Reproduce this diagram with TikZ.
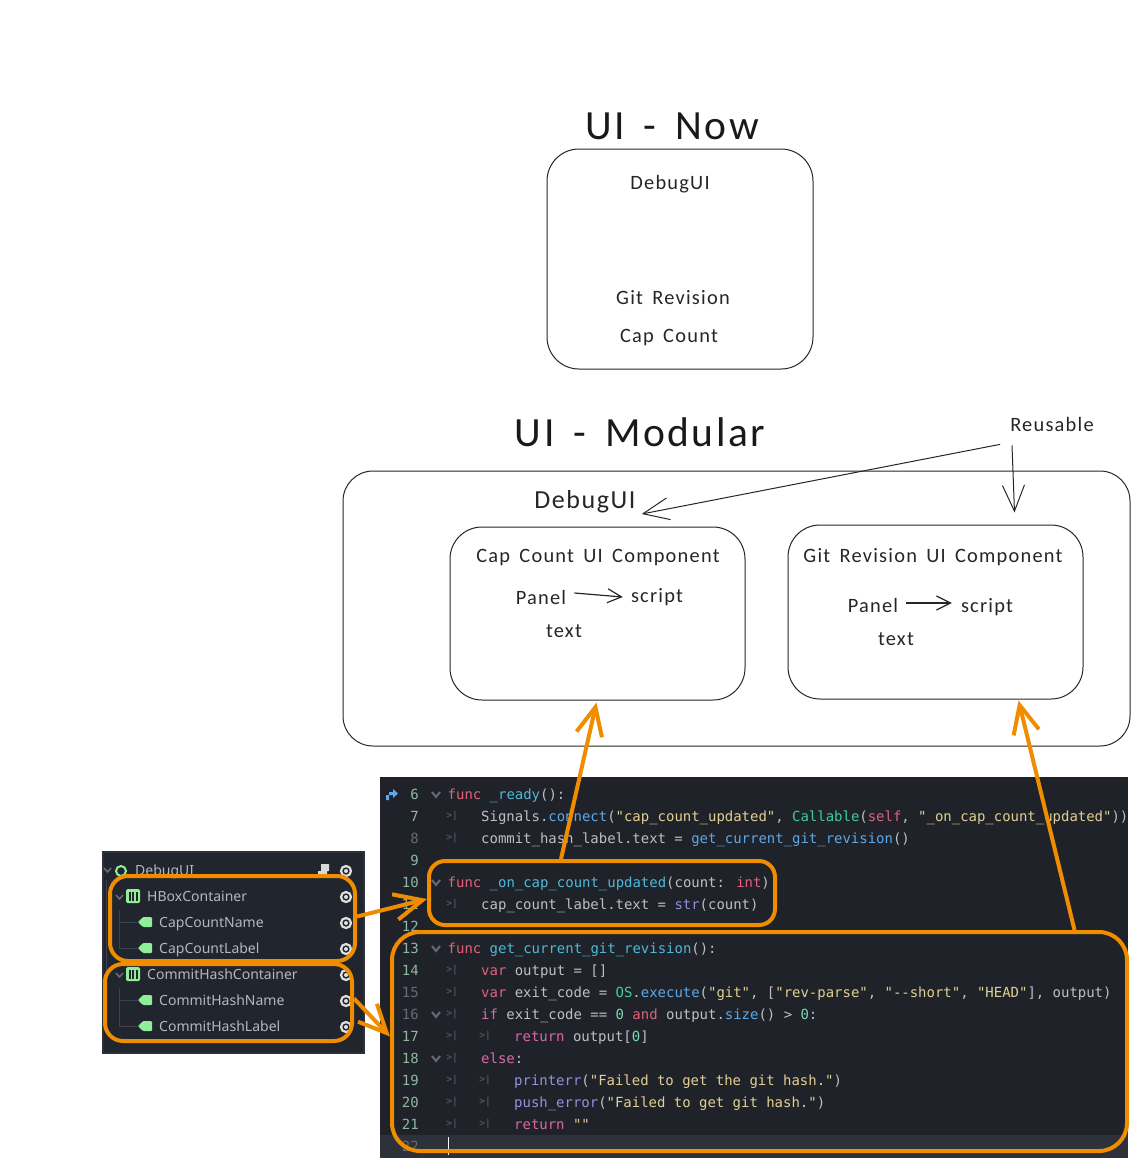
\documentclass[tikz,border=0pt]{standalone}
\usepackage{fontspec}
\usetikzlibrary{arrows.meta,positioning}
\newfontfamily\sketchfont[ItalicFont=*,LetterSpace=6,WordSpace=1.6]{Carlito}
\newfontfamily\codefont{DejaVu Sans Mono}
\newfontfamily\treefont{Noto Sans}
\definecolor{panelbg}{HTML}{1F2329}
\definecolor{treebg}{HTML}{21252E}
\definecolor{treeedge}{HTML}{2B303A}
\definecolor{treeline}{HTML}{3D424C}
\definecolor{curline}{HTML}{2D3139}
\definecolor{markorange}{HTML}{F08C00}
\definecolor{numon}{HTML}{8FB89F}
\definecolor{numoff}{HTML}{666B73}
\definecolor{tabdim}{HTML}{50555D}
\definecolor{codetext}{HTML}{BCC0C5}
\definecolor{codekw}{HTML}{E0607E}
\definecolor{codectl}{HTML}{D868A8}
\definecolor{codefn}{HTML}{4FB8D8}
\definecolor{codecall}{HTML}{5CA8E8}
\definecolor{codestr}{HTML}{E3CF93}
\definecolor{codenum}{HTML}{7FD8B0}
\definecolor{codetype}{HTML}{3FCCA0}
\definecolor{codebuilt}{HTML}{9490E0}
\definecolor{treetext}{HTML}{B4B8BE}
\definecolor{treegreen}{HTML}{8EEF97}
\newcommand{\kw}[1]{\textcolor{codekw}{#1}}
\newcommand{\ctl}[1]{\textcolor{codectl}{#1}}
\newcommand{\fn}[1]{\textcolor{codefn}{#1}}
\newcommand{\call}[1]{\textcolor{codecall}{#1}}
\newcommand{\str}[1]{\textcolor{codestr}{#1}}
\newcommand{\nm}[1]{\textcolor{codenum}{#1}}
\newcommand{\typ}[1]{\textcolor{codetype}{#1}}
\newcommand{\bi}[1]{\textcolor{codebuilt}{#1}}
\tikzset{
    sketchbox/.style={draw=black!85,line width=1pt,rounded corners=32pt,anchor=center},
    sketchlabel/.style={font=\sketchfont\itshape\fontsize{20.4}{20}\selectfont,text=black!85,inner sep=0pt},
    sketchtitle/.style={font=\sketchfont\itshape\fontsize{41.5}{41}\selectfont,text=black!90,inner sep=0pt},
    sketcharrow/.style={draw=black!85,line width=1pt,-{Straight Barb[length=26pt,width=22pt]}},
    smallarrow/.style={draw=black!85,line width=1.2pt,-{Straight Barb[length=14pt,width=14pt]}},
    codeline/.style={font=\codefont\fontsize{13.96}{14}\selectfont,text=codetext,anchor=base west,inner sep=0pt},
    linenum/.style={font=\codefont\fontsize{13.96}{14}\selectfont,anchor=base east,inner sep=0pt},
    tabmark/.style={font=\codefont\bfseries\fontsize{9.5}{9}\selectfont,text=tabdim,inner sep=0pt},
    treerow/.style={font=\treefont\fontsize{14}{14}\selectfont,text=treetext,anchor=base west,inner sep=0pt},
    markbox/.style={draw=markorange,line width=4pt,anchor=center},
    markarrow/.style={draw=markorange,line width=4pt,-{Straight Barb[length=28pt,width=26pt]}},
}
\begin{document}
\begin{tikzpicture}[x=1pt,y=-1pt]
    \useasboundingbox (0,0) rectangle (1139,1168);
    % top sketch
    \node[sketchtitle] (nowtitle) at (672,126) {UI - Now};
    \node[sketchbox,minimum width=266pt,minimum height=220pt] (nowbox) at (680,259) {};
    \node[sketchlabel] (nowname) at (670,184) {DebugUI};
    \node[sketchlabel] (nowgit) at (673,298) {Git Revision};
    \node[sketchlabel] (nowcap) at (669,338) {Cap Count};
    % modular sketch
    \node[sketchtitle] (modtitle) at (640,432) {UI - Modular};
    \node[sketchlabel] (reusable) at (1052,424) {Reusable};
    \node[sketchbox,rounded corners=30pt,minimum width=787pt,minimum height=275pt] (modbox) at (736.5,608.5) {};
    \node[sketchlabel,font=\sketchfont\itshape\fontsize{26}{26}\selectfont] (modname) at (585,502) {DebugUI};
    \node[sketchbox,minimum width=295pt,minimum height=173pt] (capcomp) at (597.5,613.5) {};
    \node[sketchbox,minimum width=295pt,minimum height=174pt] (gitcomp) at (935.5,612) {};
    \node[sketchlabel] (captitle) at (598,558) {Cap Count UI Component};
    \node[sketchlabel] (cappanel) at (541,597) {Panel};
    \node[sketchlabel] (capscript) at (657,597) {script};
    \node[sketchlabel] (captext) at (564,631) {text};
    \node[sketchlabel] (gittitle) at (933,557) {Git Revision UI Component};
    \node[sketchlabel] (gitpanel) at (873,605) {Panel};
    \node[sketchlabel] (gitscript) at (987,607) {script};
    \node[sketchlabel] (gittext) at (896,639) {text};
    \draw[smallarrow] ([shift={(8pt,4pt)}]cappanel.east) -- ([shift={(-8pt,0pt)}]capscript.west);
    \draw[smallarrow] ([shift={(8pt,2pt)}]gitpanel.east) -- ([shift={(-9pt,4pt)}]gitscript.west);
    \draw[sketcharrow] ([shift={(-10pt,-13pt)}]reusable.south west) -- ([shift={(6pt,-12pt)}]modname.east);
    \draw[sketcharrow] ([shift={(-40pt,-14pt)}]reusable.south) -- ([xshift=79pt,yshift=12pt]gitcomp.north);

    % code panel
    \fill[panelbg] (380,777) rectangle (1128,1158);
    \fill[curline] (380,1135) rectangle (1128,1158);
    \foreach \n/\c in {6/numon,7/numon,8/numoff,9/numon,10/numon,11/numon,12/numon,13/numon,14/numon,15/numoff,16/numoff,17/numon,18/numon,19/numon,20/numon,21/numon,22/numoff}
        \node[linenum,text=\c] (l\n) at (419,{799+22*(\n-6)}) {\n};
    \foreach \n in {6,10,13,16,18}
        \draw[numoff,line width=2pt] ({432},{792+22*(\n-6)}) -- (436,{797+22*(\n-6)}) -- (440,{792+22*(\n-6)});
    \foreach \n in {7,8,11,14,15,16,17,18,19,20,21}
        \node[tabmark] (ta\n) at (452,{794+22*(\n-6)}) {>|};
    \foreach \n in {17,19,20,21}
        \node[tabmark] (tb\n) at (485,{794+22*(\n-6)}) {>|};
    \fill[codecall] (386,800) rectangle (389,795) -- (389,792) -- (393,792) -- (393,789) -- (398,793.5) -- (393,798) -- (393,795) -- (389,795);
    \node[codeline] (c6) at (447.5,799) {\kw{func} \fn{\_ready}():};
    \node[codeline] (c7) at (481,821) {Signals.\call{connect}(\str{"cap\_count\_updated"}, \typ{Callable}(\kw{self}, \str{"\_on\_cap\_count\_updated"}))};
    \node[codeline] (c8) at (481,843) {commit\_hash\_label.text = \call{get\_current\_git\_revision}()};
    \node[codeline] (c10) at (447.5,887) {\kw{func} \fn{\_on\_cap\_count\_updated}(count: \kw{int}):};
    \node[codeline] (c11) at (481,909) {cap\_count\_label.text = \bi{str}(count)};
    \node[codeline] (c13) at (447.5,953) {\kw{func} \fn{get\_current\_git\_revision}():};
    \node[codeline] (c14) at (481,975) {\kw{var} output = []};
    \node[codeline] (c15) at (481,997) {\kw{var} exit\_code = \typ{OS}.\call{execute}(\str{"git"}, [\str{"rev-parse"}, \str{"--short"}, \str{"HEAD"}], output)};
    \node[codeline] (c16) at (481,1019) {\ctl{if} exit\_code == \nm{0} \kw{and} output.\call{size}() > \nm{0}:};
    \node[codeline] (c17) at (514,1041) {\ctl{return} output[\nm{0}]};
    \node[codeline] (c18) at (481,1063) {\ctl{else}:};
    \node[codeline] (c19) at (514,1085) {\bi{printerr}(\str{"Failed to get the git hash."})};
    \node[codeline] (c20) at (514,1107) {\bi{push\_error}(\str{"Failed to get git hash."})};
    \node[codeline] (c21) at (514,1129) {\ctl{return} \str{""}};
    \draw[white,line width=0.8pt] (448,1137) -- (448,1155);

    % scene tree panel
    \fill[treeedge] (102,851) rectangle (365,1054);
    \fill[treebg] (104,853) rectangle (363,1052);
    \draw[treeline,line width=0.8pt] (119,910) -- (119,948) -- (138,948) (119,922) -- (138,922);
    \draw[treeline,line width=0.8pt] (119,988) -- (119,1026) -- (138,1026) (119,1000) -- (138,1000);
    \draw[treeline,line width=0.8pt] (106,880) -- (106,970) -- (113,970);
    \foreach \n/\y/\txt/\xx in {0/875/DebugUI/135,1/901.5/HBoxContainer/147,2/927.5/CapCountName/159,3/953.5/CapCountLabel/159,4/979.5/CommitHashContainer/147,5/1005.5/CommitHashName/159,6/1031.5/CommitHashLabel/159}
        \node[treerow] (row\n) at (\xx,\y) {\txt};
    \foreach \y in {870,897,975}
        \draw[numoff,line width=1.6pt] ({\y==870 ? 104 : 116},\y-2) -- ++(3.5,4) -- ++(3.5,-4);
    \draw[treegreen,line width=2pt] (121,871) circle (5pt);
    \foreach \y in {896,974} {
        \fill[treegreen,rounded corners=1.5pt] (126,\y-7) rectangle (140,\y+7);
        \foreach \dx in {129.5,133,136.5} \fill[treebg] (\dx-1,\y-4.5) rectangle (\dx+1,\y+4.5);
    }
    \foreach \y in {922,948,1000,1026}
        \fill[treegreen,rounded corners=1pt] (138,\y) -- (143,\y-5) -- (152,\y-5) -- (152,\y+5) -- (143,\y+5) -- cycle;
    \fill[white!85!black] (318,875) rectangle (327,871) (321,871) rectangle (329,864);
    \foreach \y in {871,897,923,949,975,1001,1027} {
        \draw[white!88!black,line width=2.2pt] (346,\y) circle (5pt);
        \fill[white!88!black] (346,\y) circle (2pt);
    }

    % orange marks
    \node[markbox,rounded corners=16pt,minimum width=346pt,minimum height=64pt] (capcode) at (602,893) {};
    \node[markbox,rounded corners=28pt,minimum width=735pt,minimum height=219pt] (gitcode) at (759.5,1041.5) {};
    \node[markbox,rounded corners=18pt,minimum width=245pt,minimum height=85pt] (hboxmark) at (232.5,918.5) {};
    \node[markbox,rounded corners=18pt,minimum width=247pt,minimum height=77pt] (commitmark) at (228.5,1002.5) {};
    \draw[markarrow] ([xshift=-41pt]capcode.north) -- ([xshift=-1pt,yshift=-2pt]capcomp.south);
    \draw[markarrow] ([xshift=315pt]gitcode.north) -- ([xshift=83pt,yshift=-1pt]gitcomp.south);
    \draw[markarrow] ([yshift=2pt]hboxmark.east) -- ([yshift=-6pt]capcode.west);
    \draw[markarrow] ([yshift=4pt]commitmark.east) -- ([yshift=5pt]gitcode.west);
\end{tikzpicture}
\end{document}
